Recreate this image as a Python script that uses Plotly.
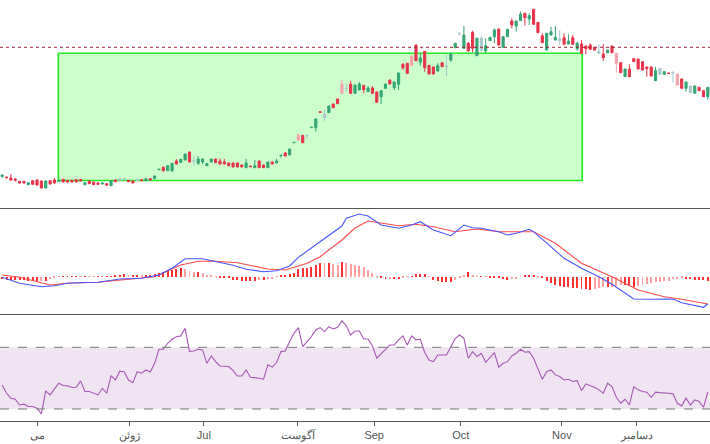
import plotly.graph_objects as go

# ---------------- data ----------------
open_ = [123.3,123.0,122.0,120.7,118.7,118.7,115.3,119.3,120.0,119.0,112.0,119.3,120.0,118.3,120.7,119.7,119.7,120.3,120.7,115.3,
         119.0,118.0,117.0,116.0,116.3,114.3,120.0,120.0,121.0,119.7,119.0,119.3,120.3,119.3,121.3,121.3,130.3,132.7,129.3,129.0,
         139.0,137.7,140.0,148.0,138.8,136.7,138.0,134.3,138.0,141.0,139.0,138.0,137.0,137.0,137.0,135.0,132.3,134.0,132.3,139.0,
         135.0,132.3,138.0,137.0,144.3,147.0,145.0,157.3,164.7,164.7,164.3,172.3,172.3,188.3,182.3,187.3,196.0,201.0,216.0,211.3,
         216.0,206.7,210.0,214.7,208.3,212.0,208.0,203.3,211.7,220.0,212.3,215.7,235.7,236.7,244.0,255.0,238.0,248.7,234.7,233.0,
         229.0,237.3,233.5,240.0,252.3,266.2,251.7,256.7,267.7,244.3,250.0,249.0,259.3,263.3,271.0,252.7,263.3,279.0,274.0,279.3,
         286.7,281.0,290.7,277.7,264.3,250.0,265.0,260.0,259.3,262.3,256.0,262.3,251.0,256.0,254.0,255.0,252.7,246.7,246.0,247.3,
         254.0,246.7,237.3,223.3,230.7,241.3,241.0,238.3,233.0,233.0,219.3,225.7,225.7,227.0,226.8,226.0,221.0,211.7,207.3,206.7,
         212.7,209.3,203.3]
high = [125.5,123.5,126.0,122.0,119.0,119.0,118.0,120.0,120.5,119.5,119.5,120.0,122.0,120.0,121.0,120.0,120.0,120.7,121.0,117.7,
        119.3,118.3,118.0,117.3,116.7,119.7,120.3,121.7,121.7,120.0,119.3,121.0,120.7,121.7,121.7,124.3,131.0,133.5,134.7,137.0,
        141.0,141.0,146.3,148.3,144.0,144.0,141.3,136.7,141.3,141.3,141.7,141.0,137.3,137.3,137.3,135.3,141.0,134.3,140.0,139.3,
        135.3,138.3,138.3,141.3,145.0,148.0,151.3,158.0,166.7,165.0,165.0,173.0,181.3,188.5,190.0,194.3,196.3,201.3,220.0,216.7,
        219.0,215.3,218.0,215.0,214.0,214.0,208.3,209.7,216.3,220.3,218.3,227.3,237.0,237.0,244.3,255.3,246.7,249.0,235.0,233.3,
        236.7,237.7,245.0,247.3,257.0,267.0,274.0,258.0,269.3,262.5,264.3,261.7,263.0,271.7,271.3,263.7,271.0,281.7,279.3,288.3,
        287.0,286.7,291.0,278.0,266.7,267.0,273.3,274.0,270.0,266.7,265.7,265.0,258.3,260.0,254.3,256.7,253.0,255.7,256.0,250.3,
        254.3,247.0,237.7,231.3,235.7,242.0,241.3,238.7,233.3,233.3,233.0,232.0,228.7,227.3,229.0,226.3,221.3,218.3,214.3,214.3,
        213.0,209.7,213.0]
low = [122.5,121.8,119.5,118.5,116.5,116.5,115.0,115.0,114.5,111.5,111.5,115.5,116.5,118.0,117.5,117.5,117.5,117.7,118.5,115.0,
       116.0,115.0,115.3,115.7,114.3,114.0,118.0,117.3,117.7,118.0,116.7,119.0,119.0,119.0,119.7,121.0,130.0,128.5,129.0,128.7,
       135.5,137.3,139.7,137.7,134.0,135.0,136.0,134.0,137.7,137.0,135.7,135.7,134.0,132.7,132.7,132.7,132.0,133.0,132.0,132.0,
       132.0,132.0,135.7,136.7,142.3,143.7,144.7,157.0,159.0,157.0,161.3,172.0,168.3,187.5,179.0,187.0,192.0,196.0,206.5,208.0,
       206.5,206.0,209.7,206.7,208.0,206.3,197.3,196.0,211.3,215.7,210.0,210.0,230.0,226.0,234.0,239.0,234.3,228.3,225.7,225.7,
       228.7,233.0,224.0,238.3,252.0,264.3,251.3,248.0,247.7,244.0,246.7,246.7,259.0,256.7,254.7,252.3,263.0,271.7,268.3,279.0,
       274.3,275.0,275.3,267.0,257.0,249.7,264.7,259.7,255.0,255.3,255.7,255.0,249.3,246.3,245.7,250.3,249.7,246.3,239.0,247.0,
       247.0,227.3,227.0,223.0,223.0,238.0,230.7,229.7,223.3,223.7,219.0,225.3,225.3,226.0,217.3,214.7,211.3,208.3,207.0,206.3,
       209.0,203.0,200.0]
close = [125.0,122.3,120.0,119.7,117.0,117.0,117.3,115.7,115.0,112.0,119.0,116.0,117.0,119.7,118.0,118.0,118.0,118.0,119.0,117.3,
         116.3,115.3,115.7,117.0,115.0,119.3,118.3,121.3,121.3,118.3,117.0,120.7,119.3,121.3,120.0,124.0,130.7,129.3,134.3,136.7,
         136.0,140.7,146.0,138.0,139.2,141.0,141.0,136.3,141.0,137.3,136.0,136.0,134.3,133.0,133.0,133.0,137.0,133.3,134.3,132.3,
         132.3,138.0,136.0,139.0,144.7,144.0,151.0,157.7,160.0,157.3,164.7,172.7,181.0,187.7,186.0,194.0,192.3,196.3,206.7,211.7,
         206.7,215.0,216.0,210.3,212.0,206.7,197.7,209.3,216.0,216.0,218.0,227.0,232.3,226.7,234.3,239.3,242.0,232.3,226.0,226.0,
         234.3,233.3,234.0,245.7,256.7,266.7,265.0,249.3,251.7,261.7,261.7,254.3,262.7,270.0,255.0,263.3,270.7,275.0,279.0,286.0,
         282.3,284.3,275.7,267.3,257.3,266.7,268.3,262.7,261.0,255.7,259.0,255.7,256.7,246.7,251.3,250.7,250.0,248.3,242.3,250.0,
         247.3,236.7,227.3,231.0,223.3,238.3,231.0,230.0,231.3,224.0,229.3,231.7,228.3,226.5,227.3,215.0,211.7,218.0,214.0,214.0,
         209.3,203.3,212.7]
# sessions with thin trading (drawn in muted colours)
thin_sessions = [27, 28, 31, 44, 68, 70, 74, 78, 79, 94, 102, 105, 110, 128, 137, 141, 151, 154, 155, 158]

macd_idx = [0, 4, 9, 12, 15, 17, 22, 27, 32, 36, 39, 42, 46, 49, 53, 56, 60, 63, 66, 68, 73, 78, 79, 82, 84, 87, 91, 94,
            96, 99, 103, 106, 108, 110, 114, 116, 118, 121, 122, 126, 129, 133, 137, 140, 145, 149, 154, 156, 161, 162]
macd_val = [-0.06, -0.66, -1.0, -0.9, -0.66, -0.6, -0.56, -0.23, -0.16, 0.17, 0.84, 1.8, 1.8, 1.5, 1.14, 0.74, 0.5, 0.6,
            1.07, 1.94, 3.5, 5.07, 5.84, 6.27, 6.07, 5.17, 4.84, 5.17, 5.5, 4.67, 4.1, 5.17, 4.9, 4.84, 4.5, 4.17, 4.34, 4.74,
            4.5, 3.0, 1.84, 0.84, 0.0, -0.76, -2.23, -2.26, -2.23, -2.6, -3.06, -2.73]
signal_idx = [0, 4, 11, 15, 22, 27, 35, 41, 45, 49, 54, 61, 65, 70, 73, 78, 81, 84, 91, 95, 99, 104, 109, 114, 122, 127,
              133, 140, 146, 152, 156, 162]
signal_val = [0.17, -0.06, -0.83, -0.66, -0.56, -0.33, 0.0, 1.17, 1.54, 1.54, 1.4, 0.77, 0.67, 1.34, 2.0, 3.67, 4.87, 5.57,
              5.1, 5.24, 5.0, 4.5, 4.77, 4.5, 4.5, 3.34, 1.34, 0.0, -1.33, -2.0, -2.26, -2.73]
hist_val = [-0.23,-0.30,-0.33,-0.33,-0.33,-0.37,-0.40,-0.43,-0.43,-0.40,-0.40,-0.20,-0.13,-0.03,0.03,0.03,0.05,0.07,0.05,0.07,
            0.05,0.03,0.05,0.03,0.07,0.07,0.10,0.10,0.27,0.13,0.13,0.17,0.13,0.17,0.20,0.23,0.33,0.43,0.53,0.63,
            0.77,0.83,0.77,0.60,0.50,0.50,0.33,0.20,0.10,0.03,-0.07,-0.10,-0.17,-0.33,-0.33,-0.40,-0.40,-0.40,-0.40,-0.33,
            -0.33,-0.27,-0.20,0.07,0.13,0.17,0.23,0.40,0.73,0.83,0.90,1.00,1.17,1.40,1.33,1.40,1.27,1.17,1.47,1.40,
            1.30,1.17,1.10,1.00,0.67,0.40,0.07,-0.17,-0.27,-0.20,-0.20,-0.20,-0.17,0.03,0.03,0.27,0.27,0.27,0.03,-0.33,
            -0.40,-0.50,-0.50,-0.50,-0.33,-0.17,0.13,0.50,0.17,0.07,0.07,0.03,-0.07,-0.13,-0.13,-0.20,-0.33,-0.27,-0.20,0.03,
            0.17,0.17,0.17,0.03,-0.10,-0.43,-0.67,-0.83,-0.90,-1.00,-1.07,-1.17,-1.17,-1.23,-1.23,-1.33,-1.23,-1.13,-1.07,-1.07,
            -1.00,-0.93,-0.83,-0.83,-0.90,-1.00,-0.93,-0.83,-0.73,-0.67,-0.53,-0.50,-0.47,-0.43,-0.27,-0.20,-0.07,-0.20,-0.20,-0.33,
            -0.33,-0.33,-0.43]
rsi_val = [45.6,40.2,37.0,36.3,32.6,33.1,31.6,31.6,30.5,26.8,41.7,39.1,43.0,46.7,45.2,45.0,43.9,44.1,48.2,41.3,
           41.3,40.2,39.1,43.4,40.2,51.6,48.8,54.5,54.2,48.8,47.1,54.2,53.2,55.3,54.0,59.6,68.7,68.7,72.6,75.2,
           76.9,77.4,82.3,67.4,67.6,68.7,68.3,59.6,64.4,60.7,57.9,57.7,57.5,54.9,51.4,51.4,55.3,50.6,50.4,49.9,
           49.3,58.6,57.1,60.1,67.2,67.6,73.7,79.1,82.8,70.4,73.7,76.9,81.2,82.8,80.2,83.4,81.9,83.0,87.3,84.0,
           78.0,80.6,80.6,75.4,75.4,70.9,62.9,66.1,68.7,71.5,71.5,74.8,77.4,71.5,77.4,74.8,75.2,66.6,61.8,60.7,
           65.0,65.0,65.0,70.4,75.6,78.0,75.8,62.9,67.2,64.0,66.1,60.3,63.5,66.6,57.1,59.6,60.7,64.4,66.1,68.7,
           66.8,67.2,62.9,55.8,49.3,54.2,55.3,52.1,51.0,48.8,49.3,47.8,48.4,41.9,46.3,45.0,44.1,42.4,40.2,46.7,
           44.5,37.6,33.7,36.3,32.6,44.5,42.4,41.3,40.9,37.6,40.9,40.6,40.6,40.2,39.8,33.7,32.0,37.0,32.6,35.9,
           34.8,31.1,40.9]

rsi_upper, rsi_lower = 70, 30
resistance_level = 252.7
zone_start, zone_end = 12.88, 133.17
zone_low, zone_high = 119.5, 246.7

month_pos = [8.2, 29.3, 46.3, 67.8, 85.4, 105.3, 128.5, 145.7]
month_labels = ["می", "ژوئن", "Jul", "آگوست", "Sep", "Oct", "Nov", "دسامبر"]

# ---------------- figure ----------------
n = len(close)
idx = list(range(n))
thin = set(thin_sessions)
norm_i = [i for i in idx if i not in thin]
thin_i = [i for i in idx if i in thin]

GREEN, RED = "#35a574", "#e8334a"
GREEN_M, RED_M = "#a9c8cc", "#f5a3ad"

def sub(arr, ids):
    return [arr[i] for i in ids]

fig = go.Figure()

fig.add_trace(go.Candlestick(
    x=norm_i, open=sub(open_, norm_i), high=sub(high, norm_i), low=sub(low, norm_i), close=sub(close, norm_i),
    increasing=dict(line=dict(color=GREEN, width=1), fillcolor=GREEN),
    decreasing=dict(line=dict(color=RED, width=1), fillcolor=RED),
    whiskerwidth=0, xaxis="x", yaxis="y", showlegend=False, hoverinfo="skip"))
fig.add_trace(go.Candlestick(
    x=thin_i, open=sub(open_, thin_i), high=sub(high, thin_i), low=sub(low, thin_i), close=sub(close, thin_i),
    increasing=dict(line=dict(color=GREEN_M, width=1), fillcolor=GREEN_M),
    decreasing=dict(line=dict(color=RED_M, width=1), fillcolor=RED_M),
    whiskerwidth=0, xaxis="x", yaxis="y", showlegend=False, hoverinfo="skip"))

# MACD histogram
hcolors = []
for i, h in enumerate(hist_val):
    prev = hist_val[i - 1] if i > 0 else h
    hcolors.append("#ff3030" if abs(h) >= abs(prev) else "#ffa0a0")
fig.add_trace(go.Bar(x=idx, y=hist_val, marker=dict(color=hcolors, line=dict(width=0)), width=0.22,
                     xaxis="x2", yaxis="y2", showlegend=False, hoverinfo="skip"))
fig.add_trace(go.Scatter(x=signal_idx, y=signal_val, mode="lines", line=dict(color="#ff4a4a", width=1.1),
                         xaxis="x2", yaxis="y2", showlegend=False, hoverinfo="skip"))
fig.add_trace(go.Scatter(x=macd_idx, y=macd_val, mode="lines", line=dict(color="#4a55ff", width=1.1),
                         xaxis="x2", yaxis="y2", showlegend=False, hoverinfo="skip"))

# RSI
fig.add_trace(go.Scatter(x=idx, y=rsi_val, mode="lines", line=dict(color="#a757b5", width=1.1),
                         xaxis="x3", yaxis="y3", showlegend=False, hoverinfo="skip"))

shapes = [
    dict(type="rect", xref="x", yref="y", x0=zone_start, x1=zone_end, y0=zone_low, y1=zone_high,
         fillcolor="#ccffcc", line=dict(color="#22ee22", width=1.6), layer="below"),
    dict(type="line", xref="x domain", yref="y", x0=0, x1=1, y0=resistance_level, y1=resistance_level,
         line=dict(color="#9b2335", width=1, dash="dot")),
    dict(type="rect", xref="x3 domain", yref="y3", x0=0, x1=1, y0=rsi_lower, y1=rsi_upper,
         fillcolor="#f1e4f2", line=dict(width=0), layer="below"),
    dict(type="line", xref="x3 domain", yref="y3", x0=0, x1=1, y0=rsi_upper, y1=rsi_upper,
         line=dict(color="#777777", width=1, dash="dash")),
    dict(type="line", xref="x3 domain", yref="y3", x0=0, x1=1, y0=rsi_lower, y1=rsi_lower,
         line=dict(color="#777777", width=1, dash="dash")),
]

H_PLOT = 421.0
d1 = (H_PLOT - 208) / H_PLOT
d2 = (H_PLOT - 314) / H_PLOT
xr = [-0.5, n - 0.5]
common_x = dict(range=xr, showgrid=False, zeroline=False, showline=True, linecolor="#555555", linewidth=1,
                fixedrange=True)

fig.update_layout(
    width=710, height=444,
    margin=dict(l=0, r=0, t=0, b=23),
    paper_bgcolor="white", plot_bgcolor="white",
    showlegend=False, bargap=0,
    font=dict(family="Liberation Sans, Arial, sans-serif", size=11, color="#555555"),
    xaxis=dict(common_x, anchor="y", showticklabels=False, ticks="", rangeslider=dict(visible=False)),
    xaxis2=dict(common_x, anchor="y2", matches="x", showticklabels=False, ticks=""),
    xaxis3=dict(common_x, anchor="y3", matches="x", tickmode="array", tickvals=month_pos, ticktext=month_labels,
                ticks="outside", ticklen=4, tickcolor="#555555", tickfont=dict(size=11, color="#555555")),
    yaxis=dict(domain=[d1, 1], range=[92, 300], showticklabels=False, showgrid=False, zeroline=False),
    yaxis2=dict(domain=[d2, d1], range=[-3.73, 6.87], showticklabels=False, showgrid=False, zeroline=False),
    yaxis3=dict(domain=[0, d2], range=[22.2, 91.6], showticklabels=False, showgrid=False, zeroline=False),
    shapes=shapes,
)

fig.write_html("out.html")
